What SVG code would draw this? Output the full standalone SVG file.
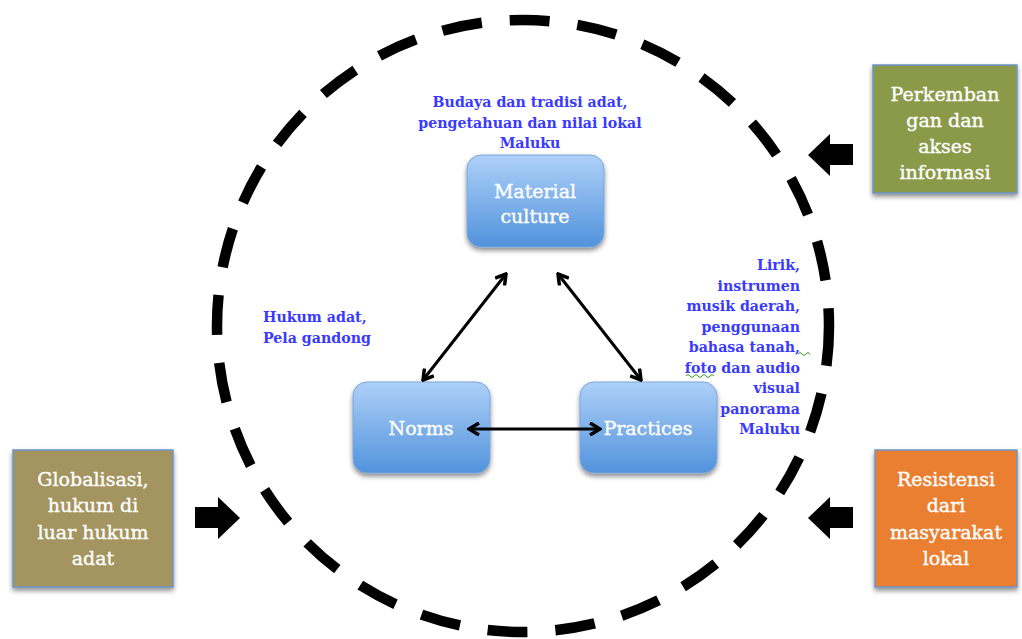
<svg xmlns="http://www.w3.org/2000/svg" width="1022" height="639" viewBox="0 0 1022 639">
<defs>
<linearGradient id="blue" x1="0" y1="0" x2="0" y2="1">
<stop offset="0" stop-color="#aed0f8"/>
<stop offset="1" stop-color="#5193dc"/>
</linearGradient>
<filter id="sh" x="-20%" y="-20%" width="140%" height="150%">
<feGaussianBlur in="SourceAlpha" stdDeviation="2.5"/>
<feOffset dx="0" dy="3" result="b"/>
<feComponentTransfer><feFuncA type="linear" slope="0.45"/></feComponentTransfer>
<feMerge><feMergeNode/><feMergeNode in="SourceGraphic"/></feMerge>
</filter>
<marker id="ah" viewBox="0 0 14 14" refX="12" refY="7" markerWidth="14" markerHeight="14" markerUnits="userSpaceOnUse" orient="auto-start-reverse">
<path d="M2,1 L12,7 L2,13" fill="none" stroke="#000" stroke-width="3.5"/>
</marker>
<style>
.core{fill:url(#blue);stroke:#7aa6dc;stroke-width:1;filter:url(#sh)}
.side{stroke:#6c95c9;stroke-width:1.5;filter:url(#sh)}
.wt{font-family:"DejaVu Serif",serif;font-size:19px;fill:#fff;stroke:#fff;stroke-width:0.35;text-anchor:middle}
.bt{font-family:"DejaVu Serif",serif;font-size:14.2px;font-weight:bold;fill:#3a3aff}
.con{stroke:#000;stroke-width:3;fill:none;marker-start:url(#ah);marker-end:url(#ah)}
.blk{fill:#000}
</style>
</defs>
<rect width="1022" height="639" fill="#fff"/>
<g id="boundary">
<ellipse cx="523" cy="326" rx="306" ry="306" fill="none" stroke="#000" stroke-width="10.5" stroke-dasharray="40 28"/>
</g>
<g id="material">
<rect class="core" x="467" y="155" width="137" height="92" rx="14"/>
<text class="wt" x="535" y="198">Material</text>
<text class="wt" x="535" y="223">culture</text>
</g>
<g id="norms">
<rect class="core" x="353" y="382" width="137" height="91" rx="14"/>
<text class="wt" x="421" y="435">Norms</text>
</g>
<g id="practices">
<rect class="core" x="580" y="382" width="137" height="91" rx="14"/>
<text class="wt" x="648" y="435">Practices</text>
</g>
<g id="label-material">
<text class="bt" text-anchor="middle" x="530" y="107">Budaya dan tradisi adat,</text>
<text class="bt" text-anchor="middle" x="530" y="128">pengetahuan dan nilai lokal</text>
<text class="bt" text-anchor="middle" x="530" y="148">Maluku</text>
</g>
<g id="label-norms">
<text class="bt" x="263" y="322">Hukum adat,</text>
<text class="bt" x="263" y="343">Pela gandong</text>
</g>
<g id="label-practices">
<text class="bt" text-anchor="end" x="800" y="270">Lirik,</text>
<text class="bt" text-anchor="end" x="800" y="290.5">instrumen</text>
<text class="bt" text-anchor="end" x="800" y="311">musik daerah,</text>
<text class="bt" text-anchor="end" x="800" y="331.5">penggunaan</text>
<text class="bt" text-anchor="end" x="800" y="352">bahasa tanah,</text>
<text class="bt" text-anchor="end" x="800" y="372.5">foto dan audio</text>
<text class="bt" text-anchor="end" x="800" y="393">visual</text>
<text class="bt" text-anchor="end" x="800" y="413.5">panorama</text>
<text class="bt" text-anchor="end" x="800" y="434">Maluku</text>
<path d="M798,354 q2,-3 4,0 t4,0 t4,0 M686,376 q2,-3 4,0 t4,0 t4,0 t4,0 t4,0 t4,0 t4,0" fill="none" stroke="#3a9a2a" stroke-width="1"/>
</g>
<g id="informasi">
<rect class="side" x="873" y="65" width="144" height="128" fill="#8a9a48"/>
<text class="wt" x="945" y="101">Perkemban</text>
<text class="wt" x="945" y="127">gan dan</text>
<text class="wt" x="945" y="153">akses</text>
<text class="wt" x="945" y="179">informasi</text>
</g>
<g id="globalisasi">
<rect class="side" x="13" y="450" width="160" height="137" fill="#a39460"/>
<text class="wt" x="93" y="486">Globalisasi,</text>
<text class="wt" x="93" y="512">hukum di</text>
<text class="wt" x="93" y="539">luar hukum</text>
<text class="wt" x="93" y="565">adat</text>
</g>
<g id="resistensi">
<rect class="side" x="875" y="450" width="142" height="137" fill="#ea7f33"/>
<text class="wt" x="946" y="486">Resistensi</text>
<text class="wt" x="946" y="512">dari</text>
<text class="wt" x="946" y="539">masyarakat</text>
<text class="wt" x="946" y="565">lokal</text>
</g>
<g id="connectors">
<line class="con" x1="506" y1="274" x2="423" y2="380"/>
<line class="con" x1="558" y1="274" x2="641" y2="380"/>
<line class="con" x1="469" y1="429" x2="600" y2="429"/>
<polygon class="blk" points="195,507 218,507 218,497 240,518 218,539 218,528 195,528"/>
<polygon class="blk" points="853,507 830,507 830,497 808,518 830,539 830,528 853,528"/>
<polygon class="blk" points="853,144 830,144 830,134 808,155 830,176 830,165 853,165"/>
</g>
</svg>
